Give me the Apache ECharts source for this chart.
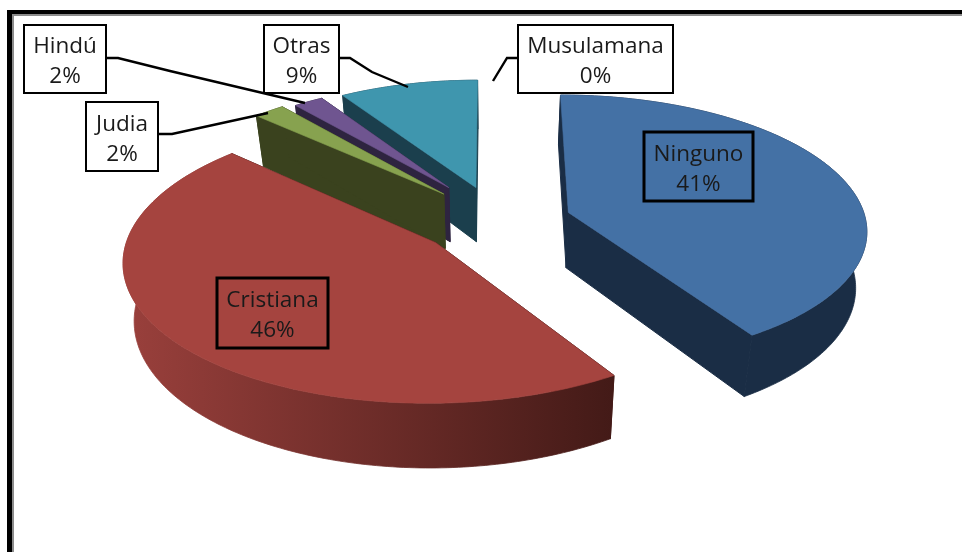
<!DOCTYPE html>
<html><head><meta charset="utf-8">
<style>html,body{margin:0;padding:0;background:#fff}#c{width:962px;height:552px}</style>
<script src="https://cdn.jsdelivr.net/npm/echarts@6/dist/echarts.min.js"></script>
</head><body><div id="c"></div>
<script>
const categories = ['Ninguno','Cristiana','Judia','Hindú','Otras','Musulamana'];
const values = [41,46,2,2,9,0];

const topColors = ['#4471a5','#a5443f','#87a24f','#6f5590','#3f96ae','#d9853b'];
const wallColors = ['#1a2d45','#431a17','#3a421e','#2e2440','#1b3f4d','#6b3f1a'];
const wallLight = ['#1a2d45','#9a403c','#3a421e','#2e2440','#1b3f4d','#6b3f1a'];
const paintOrder = [3,4,2,1,0,0];
const explodeX = [.25,-.185,-.166,-.15,-.058,0];
const explodeZ = [-.10,.12,-.24,-.29,-.29,0];
const radiusScale = [.98,1,.95,.90,.93,1];
const view = {cx:493,cy:226,rx:305,ry:137,k:.12,depth:56,converge:.97};

const boxes = [
  {i:0,x:644,y:132,w:109,h:69,lw:3,fill:'transparent'},
  {i:1,x:217,y:278,w:111,h:70,lw:3,fill:'transparent'},
  {i:2,x:86,y:102,w:72,h:69,lw:2,fill:'#fff'},
  {i:3,x:24,y:25,w:82,h:68,lw:2,fill:'#fff'},
  {i:4,x:264,y:25,w:75,h:68,lw:2,fill:'#fff'},
  {i:5,x:518,y:25,w:155,h:68,lw:2,fill:'#fff'}
];
const leaders = [
  [[106,58],[118,58],[170,71],[305,103]],
  [[158,134],[172,134],[268,113]],
  [[339,58],[350,58],[372,72],[408,87]],
  [[518,58],[507,58],[493,81]]
];

const total = values.reduce((a,b)=>a+b,0);
function project(x,z,h){
  const s = 1/(1-view.k*z);
  const b = h ? view.converge : 1;
  return [view.cx + view.rx*x*s*b, view.cy + view.ry*z*s + h*view.depth*s];
}
function renderSlice(params, api){
  const i = params.dataIndex, v = api.value(0);
  if(!v) return {type:'group',children:[]};
  let before = 0; for(let j=0;j<i;j++) before += values[j];
  const a0 = before/total*360, a1 = (before+v)/total*360;
  const ex = explodeX[i], ez = explodeZ[i], rs = radiusScale[i];
  const arc = [];
  for(let a=a0;a<a1+1e-6;a+=Math.max(.5,(a1-a0)/180)){
    const r=a*Math.PI/180; arc.push([rs*Math.sin(r)+ex,-rs*Math.cos(r)+ez]);
  }
  const r1=a1*Math.PI/180; arc.push([rs*Math.sin(r1)+ex,-rs*Math.cos(r1)+ez]);
  const topArc = arc.map(p=>project(p[0],p[1],0));
  const botArc = arc.map(p=>project(p[0],p[1],1));
  const apexT = project(ex,ez,0), apexB = project(ex,ez,1);
  const z = paintOrder[i]*10;
  const flat = wallColors[i];
  const grad = {type:'linear',x:0,y:0,x2:1,y2:0,colorStops:[{offset:0,color:wallLight[i]},{offset:1,color:wallColors[i]}]};
  return {type:'group',children:[
    {type:'polygon',z2:z,shape:{points:[apexT,topArc[0],botArc[0],apexB]},style:{fill:flat,stroke:flat,lineWidth:1}},
    {type:'polygon',z2:z,shape:{points:[apexT,topArc[topArc.length-1],botArc[botArc.length-1],apexB]},style:{fill:flat,stroke:flat,lineWidth:1}},
    {type:'polygon',z2:z+1,shape:{points:topArc.concat(botArc.slice().reverse())},style:{fill:grad,stroke:grad,lineWidth:.8}},
    {type:'polygon',z2:z+2,shape:{points:[apexT].concat(topArc)},style:{fill:topColors[i],stroke:topColors[i],lineWidth:.6}}
  ]};
}

const graphic = [
  {type:'rect',shape:{x:7,y:10,width:955,height:4},style:{fill:'#000'},z:5},
  {type:'rect',shape:{x:13,y:14,width:949,height:2},style:{fill:'#8c8c8c'},z:5},
  {type:'rect',shape:{x:7,y:10,width:5,height:542},style:{fill:'#000'},z:5},
  {type:'rect',shape:{x:12,y:14,width:2,height:538},style:{fill:'#8c8c8c'},z:5}
];
leaders.forEach(pts=>graphic.push({type:'polyline',z:6,shape:{points:pts},style:{fill:null,stroke:'#000',lineWidth:2.4}}));
boxes.forEach(b=>{
  graphic.push({type:'rect',z:7,shape:{x:b.x,y:b.y,width:b.w,height:b.h},style:{fill:b.fill,stroke:'#000',lineWidth:b.lw}});
  graphic.push({type:'text',z:8,style:{x:b.x+b.w/2,y:b.y+b.h/2+3,text:categories[b.i]+'\n'+values[b.i]+'%',align:'center',verticalAlign:'middle',lineHeight:30,font:'22.5px "Open Sans"',fill:'#1a1a1a'}});
});

const chart = echarts.init(document.getElementById('c'),null,{renderer:'canvas'});
chart.setOption({
  animation:false,
  backgroundColor:'#fff',
  graphic:graphic,
  series:[{type:'custom',coordinateSystem:'none',renderItem:renderSlice,silent:true,z:2,
    encode:{value:0},
    data:values.map((v,i)=>({name:categories[i],value:[v]}))}]
});
</script></body></html>
